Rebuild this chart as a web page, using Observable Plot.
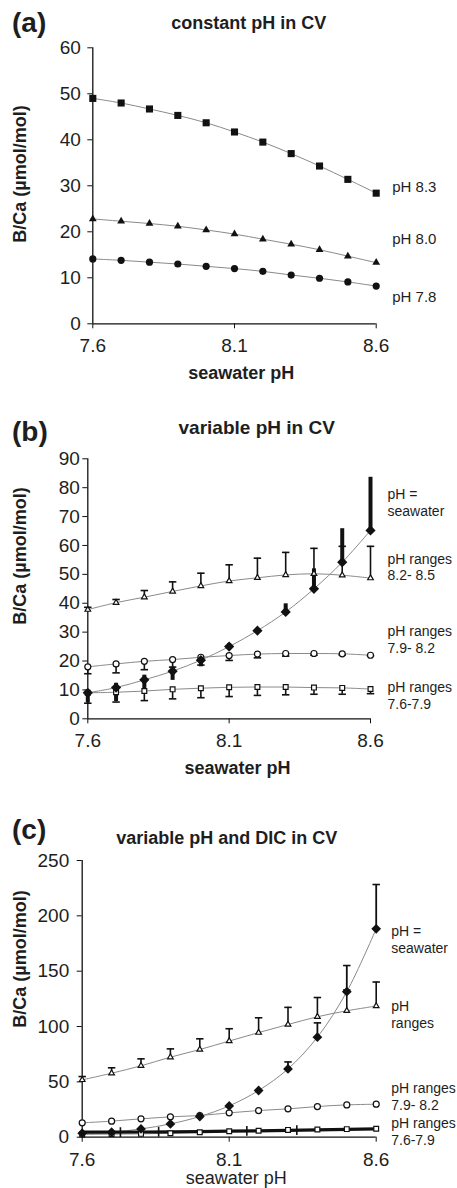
<!DOCTYPE html>
<html><head><meta charset="utf-8">
<script src="https://cdn.jsdelivr.net/npm/d3@7"></script>
<script src="https://cdn.jsdelivr.net/npm/@observablehq/plot@0.6"></script>
<style>
body{margin:0;background:#fff;}
#wrap{position:relative;width:457px;height:1188px;font-family:"Liberation Sans",Arial,sans-serif;color:#1e1e1e;overflow:hidden;background:#fff;}
.t{position:absolute;white-space:nowrap;line-height:1;}
.p{position:absolute;left:0;}
.p svg{overflow:visible;}
</style></head><body><div id="wrap"></div>
<script>
// ---------- data ----------
const phX = [7.6, 7.7, 7.8, 7.9, 8.0, 8.1, 8.2, 8.3, 8.4, 8.5, 8.6];
const xTicks = [7.6, 8.1, 8.6];
const aYTicks = [0, 10, 20, 30, 40, 50, 60];
const bYTicks = [0, 10, 20, 30, 40, 50, 60, 70, 80, 90];
const cYTicks = [0, 50, 100, 150, 200, 250];

// (a) constant pH in CV
const aPH83 = [49.0, 48.0, 46.7, 45.3, 43.7, 41.7, 39.5, 37.0, 34.3, 31.4, 28.4];
const aPH80 = [22.8, 22.3, 21.8, 21.2, 20.4, 19.5, 18.4, 17.3, 16.1, 14.7, 13.3];
const aPH78 = [14.1, 13.8, 13.4, 13.0, 12.5, 12.0, 11.4, 10.6, 9.9, 9.1, 8.2];
const aLabels = ["pH 8.3", "pH 8.0", "pH 7.8"];
const aLabelY = [29.8, 18.5, 5.9];

// (b) variable pH in CV
const bTri    = [37.8, 40.2, 42.1, 44.1, 46.0, 47.7, 48.8, 49.8, 50.2, 49.7, 48.7];
const bTriHi  = [38.6, 41.3, 44.4, 47.4, 50.4, 53.3, 55.6, 57.6, 59.0, 59.7, 59.7];
const bCirc   = [18.0, 19.0, 19.9, 20.5, 21.3, 21.9, 22.4, 22.6, 22.6, 22.5, 22.0];
const bCircLo = [15.6, 15.9, 17.0, 17.9, 18.6, 20.2, 21.1, 21.7, 22.0, 22.1, 21.8];
const bSq     = [9.0, 9.2, 9.6, 10.2, 10.6, 10.9, 11.0, 11.0, 10.8, 10.7, 10.3];
const bSqLo   = [5.4, 5.8, 6.3, 6.9, 7.3, 7.7, 8.1, 8.3, 8.5, 8.5, 8.7];
const bDia    = [9.0, 10.8, 13.5, 16.5, 20.3, 25.0, 30.5, 37.0, 45.0, 54.2, 65.2];
const bDiaLo  = [5.5, 6.0, 10.0, 13.3, 18.0, 24.0, 30.0, 36.0, 44.0, 53.0, 65.0];
const bDiaHi  = [9.5, 12.3, 15.1, 17.9, 21.9, 26.0, 31.0, 39.8, 51.9, 65.8, 83.6];
const bLabels = ["pH =\nseawater", "pH ranges\n8.2- 8.5", "pH ranges\n7.9- 8.2", "pH ranges\n7.6-7.9"];
const bLabelY = [75.0, 52.7, 27.6, 8.2];

// (c) variable pH and DIC in CV
const cTri    = [51.8, 57.8, 64.5, 72.3, 79.2, 86.9, 94.5, 101.8, 108.8, 114.2, 118.5];
const cTriHi  = [54.8, 62.7, 70.8, 79.8, 88.9, 98.0, 107.9, 117.3, 126.2, 133.0, 140.2];
const cDia    = [3.6, 4.5, 7.5, 12.0, 18.7, 28.3, 42.2, 61.7, 90.4, 131.5, 188.3];
const cDiaHi  = [null, null, null, null, null, null, null, 68.0, 103.3, 155.1, 228.3];
const cCirc   = [13.0, 14.5, 16.6, 18.4, 19.6, 22.0, 24.1, 25.6, 27.7, 29.2, 29.8];
const cCircLo = [12.0, 13.5, 15.4, 17.2, 18.4, 20.6, 22.8, 24.3, 26.4, 27.9, 28.5];
const cSq     = [2.5, 2.8, 3.0, 3.6, 4.5, 5.4, 5.9, 6.6, 7.0, 7.3, 7.6];
const cThick  = [4.5, 4.6, 4.7, 4.9, 5.1, 5.4, 5.8, 6.2, 6.6, 7.1, 7.6];
const cThickTickX = [7.73, 7.86, 8.16, 8.33];
const cThickTickY = [4.6, 4.9, 5.7, 6.3];
const cLabels = ["pH =\nseawater", "pH\nranges", "pH ranges\n7.9- 8.2", "pH ranges\n7.6-7.9"];
const cLabelY = [179.1, 111.3, 37.2, 5.6];

// ---------- helpers ----------
function rows(ys, extra = {}) {
  return phX.map((x, i) => {
    const r = {x, y: ys[i]};
    for (const k in extra) r[k] = extra[k][i];
    return r;
  });
}
const capSym = {draw(ctx, size) { const w = Math.sqrt(size) / 2; ctx.moveTo(-w, 0); ctx.lineTo(w, 0); }};
const vSym = {draw(ctx, size) { const h = Math.sqrt(size) / 2; ctx.moveTo(0, -h); ctx.lineTo(0, h); }};
const INK = "#111";
const LINE = "#8a8a8a";

function frameMarks(yMax, yTicks, pad) {
  return [
    Plot.ruleY([0], {x1: 7.6, x2: 8.6, stroke: INK, strokeWidth: 1.3}),
    Plot.ruleX([7.6], {y1: 0, y2: yMax, stroke: INK, strokeWidth: 1.3}),
    Plot.axisX(xTicks, {tickSize: 5, tickPadding: 10, fontSize: 19, tickFormat: d => d.toFixed(1), label: null, stroke: INK}),
    Plot.axisY(yTicks, {tickSize: 5, tickPadding: pad, fontSize: 19, label: null, stroke: INK})
  ];
}
function line(data) {
  return Plot.line(data, {x: "x", y: "y", stroke: LINE, strokeWidth: 1, curve: "catmull-rom"});
}
function errBar(data, key, w, capR) {
  const d = data.filter(r => r[key] != null);
  const m = [Plot.ruleX(d, {x: "x", y1: "y", y2: key, stroke: INK, strokeWidth: w})];
  if (capR) m.push(Plot.dot(d, {x: "x", y: key, symbol: capSym, r: capR, stroke: INK, strokeWidth: 1.6, fill: "none"}));
  return m;
}
function labelMarks(texts, ys, dx, size) {
  return Plot.text(texts.map((t, i) => ({t, y: ys[i]})), {
    x: () => 8.6, y: "y", text: "t", dx, textAnchor: "start", fontSize: size, lineHeight: 1.2, fill: "#1e1e1e"
  });
}
const style = {fontFamily: "'Liberation Sans', Arial, sans-serif", color: "#1e1e1e", background: "transparent", overflow: "visible"};

const wrap = document.getElementById("wrap");
function addPanel(svg, top) {
  const d = document.createElement("div");
  d.className = "p"; d.style.top = top + "px";
  d.appendChild(svg); wrap.appendChild(d);
}
function addText(txt, x, y, size, weight, mode) {
  const d = document.createElement("div");
  d.className = "t"; d.textContent = txt;
  d.style.left = x + "px"; d.style.top = y + "px";
  d.style.fontSize = size + "px"; d.style.fontWeight = weight;
  if (mode === "left") d.style.transform = "translate(0,-50%)";
  else if (mode === "rot") d.style.transform = "translate(-50%,-50%) rotate(-90deg)";
  else d.style.transform = "translate(-50%,-50%)";
  wrap.appendChild(d);
}

// ---------- panel (a) ----------
const a83 = rows(aPH83), a80 = rows(aPH80), a78 = rows(aPH78);
addPanel(Plot.plot({
  width: 457, height: 390,
  marginTop: 47.3, marginBottom: 66.7, marginLeft: 92.3, marginRight: 81.3,
  x: {domain: [7.6, 8.6], label: null}, y: {domain: [0, 60], label: null},
  style,
  marks: [
    ...frameMarks(60, aYTicks, 7),
    line(a83), line(a80), line(a78),
    Plot.dot(a83, {x: "x", y: "y", symbol: "square", r: 4, fill: INK}),
    Plot.dot(a80, {x: "x", y: "y", symbol: "triangle", r: 2.9, fill: INK}),
    Plot.dot(a78, {x: "x", y: "y", symbol: "circle", r: 3.6, fill: INK}),
    labelMarks(aLabels, aLabelY, 16, 15)
  ]
}), 0);

// ---------- panel (b) ----------
const bT = rows(bTri, {hi: bTriHi}), bC = rows(bCirc, {lo: bCircLo}), bS = rows(bSq, {lo: bSqLo}),
      bD = rows(bDia, {lo: bDiaLo, hi: bDiaHi});
const openDot = {fill: "white", stroke: INK, strokeWidth: 1.2};
addPanel(Plot.plot({
  width: 457, height: 400,
  marginTop: 68.3, marginBottom: 71.7, marginLeft: 87.3, marginRight: 87,
  x: {domain: [7.6, 8.6], label: null}, y: {domain: [0, 90], label: null},
  style,
  marks: [
    ...frameMarks(90, bYTicks, 3),
    line(bT), line(bC), line(bS), line(bD),
    ...errBar(bT, "hi", 1.6, 4.2),
    ...errBar(bC, "lo", 1.6, 4.2),
    ...errBar(bS, "lo", 1.6, 4.2),
    Plot.ruleX(bD, {x: "x", y1: "lo", y2: "hi", stroke: INK, strokeWidth: 4}),
    Plot.dot(bT, {x: "x", y: "y", symbol: "triangle", r: 2.1, ...openDot}),
    Plot.dot(bC, {x: "x", y: "y", symbol: "circle", r: 3, ...openDot}),
    Plot.dot(bS, {x: "x", y: "y", symbol: "square", r: 2.7, ...openDot}),
    Plot.dot(bD, {x: "x", y: "y", symbol: "diamond2", r: 4.6, fill: INK}),
    labelMarks(bLabels, bLabelY, 17, 14)
  ]
}), 390);

// ---------- panel (c) ----------
const cT = rows(cTri, {hi: cTriHi}), cD = rows(cDia, {hi: cDiaHi}), cC = rows(cCirc, {lo: cCircLo}),
      cS = rows(cSq), cK = rows(cThick);
const cTk = cThickTickX.map((x, i) => ({x, y: cThickTickY[i]}));
addPanel(Plot.plot({
  width: 457, height: 398,
  marginTop: 70, marginBottom: 51.3, marginLeft: 81.7, marginRight: 81.3,
  x: {domain: [7.6, 8.6], label: null}, y: {domain: [0, 250], label: null},
  style,
  marks: [
    ...frameMarks(250, cYTicks, 8),
    line(cT), line(cC), line(cS), line(cD),
    Plot.line(cK, {x: "x", y: "y", stroke: INK, strokeWidth: 3.2}),
    Plot.dot(cTk, {x: "x", y: "y", symbol: vSym, r: 5.5, stroke: INK, strokeWidth: 1.6, fill: "none"}),
    ...errBar(cT, "hi", 1.6, 4.2),
    ...errBar(cD, "hi", 1.8, 4.2),
    ...errBar(cC, "lo", 1.4, 3.2),
    Plot.dot(cT, {x: "x", y: "y", symbol: "triangle", r: 2.1, ...openDot}),
    Plot.dot(cC, {x: "x", y: "y", symbol: "circle", r: 3, ...openDot}),
    Plot.dot(cS, {x: "x", y: "y", symbol: "square", r: 2.7, ...openDot}),
    Plot.dot(cD, {x: "x", y: "y", symbol: "diamond2", r: 4.4, fill: INK}),
    labelMarks(cLabels, cLabelY, 15, 14)
  ]
}), 790);

// ---------- HTML titles ----------
addText("(a)", 12, 23, 28, "bold", "left");
addText("constant pH in CV", 248.7, 23, 18, "bold");
addText("B/Ca (\u00b5mol/mol)", 20, 174, 18, "bold", "rot");
addText("seawater pH", 241.3, 373, 18, "bold");

addText("(b)", 12, 432, 28, "bold", "left");
addText("variable pH in CV", 256.7, 427, 19, "bold");
addText("B/Ca (\u00b5mol/mol)", 20, 556, 18, "bold", "rot");
addText("seawater pH", 237.5, 768, 18, "bold");

addText("(c)", 12, 830, 28, "bold", "left");
addText("variable pH and DIC in CV", 226.7, 838, 18, "bold");
addText("B/Ca (\u00b5mol/mol)", 20, 959, 18, "bold", "rot");
addText("seawater pH", 236.2, 1178, 18, "normal");
</script></body></html>
